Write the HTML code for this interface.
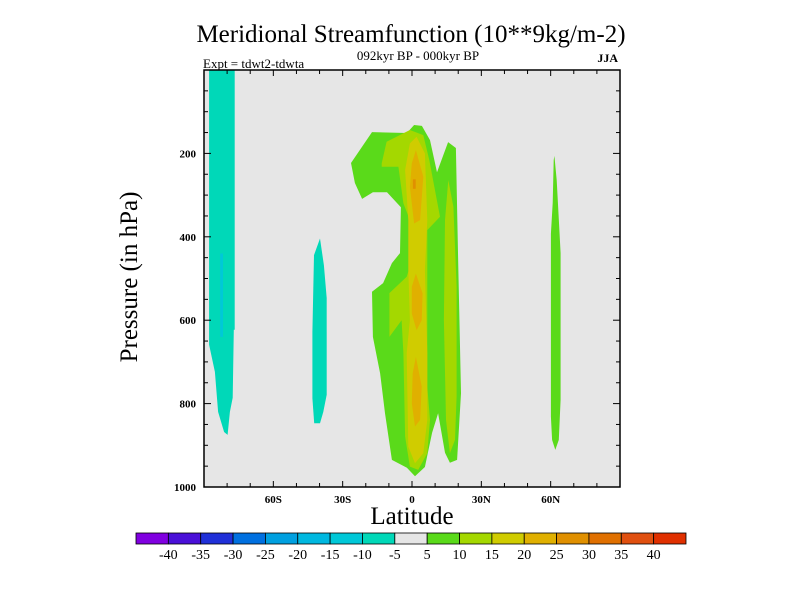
<!DOCTYPE html>
<html><head><meta charset="utf-8"><style>
body{margin:0;background:#fff;width:800px;height:600px;overflow:hidden}
text{font-family:"Liberation Serif",serif;fill:#000}
</style></head><body>
<svg id="chart" width="800" height="600" xmlns="http://www.w3.org/2000/svg">
<defs><clipPath id="clip"><rect x="204" y="70" width="416" height="417"/></clipPath></defs>
<text x="411" y="42" font-size="25" text-anchor="middle">Meridional Streamfunction (10**9kg/m-2)</text>
<text x="418" y="60" font-size="13" text-anchor="middle">092kyr BP - 000kyr BP</text>
<text x="203" y="68" font-size="13">Expt = tdwt2-tdwta</text>
<text x="618" y="62" font-size="12" font-weight="bold" text-anchor="end">JJA</text>
<rect x="204" y="70" width="416" height="417" fill="#e6e6e6"/>
<g id="fills" clip-path="url(#clip)"></g>
<rect x="204" y="70" width="416" height="417" fill="none" stroke="#000" stroke-width="1.5"/>
<g id="axes"></g>
<text transform="translate(137,277) rotate(-90)" font-size="25" text-anchor="middle">Pressure (in hPa)</text>
<text x="412" y="524" font-size="25" text-anchor="middle">Latitude</text>
<g id="colorbar"></g>
</svg>
<script>
// contour regions in data coordinates [lat, pressure hPa]
const levelColors = ["#8000e0","#4a10d8","#2030d8","#0070e0","#00a0e0","#00b8e0","#00c8d8","#00d8b8","#e6e6e6","#5ada1a","#a4d800","#d0cc00","#e0b000","#e09000","#e07000","#e05010","#e03000"];
const colorbarLabels = ["-40","-35","-30","-25","-20","-15","-10","-5","5","10","15","20","25","30","35","40"];
const xTicks = [-60,-30,0,30,60];
const xTickLabels = ["60S","30S","0","30N","60N"];
const yTicks = [200,400,600,800,1000];
const regionLevels = [7,6,7,9,9,10,10,11,12,12,12,13];
const regionSouthTeal = [[-87.8,0],[-76.7,0],[-76.7,623],[-77.1,623],[-77.6,786],[-78.8,820],[-79.8,875],[-81.3,868],[-83.9,820],[-85.3,724],[-87.8,659]];
const regionSouthCyan = [[-83.0,440],[-81.8,440],[-81.8,640],[-83.0,640]];
const region40S = [[-39.8,404],[-38.1,468],[-36.9,547],[-36.9,779],[-38.4,820],[-39.8,847],[-42.3,847],[-43.1,787],[-43.1,628],[-42.4,444]];
const region60N = [[61.6,206],[62.6,264],[63.7,376],[64.3,439],[64.3,791],[63.5,887],[62.0,911],[60.6,887],[60.1,831],[60.1,393],[60.9,319],[61.3,216]];
const regionMain5 = [[-26.4,223],[-17.3,149],[-2.2,151],[0.9,132],[4.3,134],[7.8,168],[10.8,245],[15.6,173],[19.0,187],[19.9,439],[21.2,775],[19.5,935],[16.4,942],[14.3,918],[11.3,823],[8.7,870],[5.6,952],[1.3,974],[-2.2,954],[-8.7,935],[-11.7,823],[-13.8,727],[-16.9,640],[-17.3,532],[-12.5,511],[-8.7,463],[-5.2,439],[-4.8,329],[-10.8,293],[-16.9,293],[-21.6,309],[-24.7,271]];
const regionMain10 = [[-13.1,224],[-11.0,172],[-0.9,144],[4.9,156],[7.5,216],[12.1,352],[6.6,384],[6.6,759],[7.8,839],[6.6,919],[2.7,959],[-0.9,951],[-3.0,879],[-3.7,679],[-4.5,600],[-9.8,640],[-9.8,535],[-2.3,496],[-0.1,456],[-0.9,360],[-3.7,320],[-5.9,232],[-13.1,232]];
const regionRight10 = [[15.7,264],[17.9,328],[19.3,520],[19.3,783],[18.6,887],[16.4,919],[14.7,839],[13.8,600],[14.3,360]];
const regionMain15 = [[2.0,160],[5.6,200],[6.6,360],[5.6,480],[6.6,679],[6.6,839],[4.9,919],[1.3,943],[-1.6,903],[-2.3,679],[-0.9,600],[-1.6,480],[-1.6,360],[-3.0,240],[-0.9,176]];
const regionUpper20 = [[1.7,192],[4.9,256],[3.5,360],[0.9,368],[-0.9,280],[-0.1,224]];
const regionMid20 = [[1.7,488],[4.6,536],[4.2,600],[2.0,624],[-0.1,584],[-0.1,520]];
const regionLow20 = [[1.7,688],[4.2,759],[3.5,839],[1.3,855],[-0.1,799],[0.3,727]];
const regionCore25 = [[0.4,262],[1.6,262],[1.6,285],[0.4,285]];
const regions = [regionSouthTeal,regionSouthCyan,region40S,region60N,regionMain5,regionMain10,regionRight10,regionMain15,regionUpper20,regionMid20,regionLow20,regionCore25];
const regionNames = ["region-south-teal","region-south-cyan","region-40s","region-60n","region-main-5","region-main-10","region-right-10","region-main-15","region-upper-20","region-mid-20","region-low-20","region-core-25"];

const NS="http://www.w3.org/2000/svg";
const X0=204,X1=620,Y0=70,Y1=487;
function xScale(lat){return X0+(lat+90)/180*(X1-X0);}
function yScale(p){return Y0+p/1000*(Y1-Y0);}
function mk(tag,attrs,parent){const e=document.createElementNS(NS,tag);for(const k in attrs)e.setAttribute(k,attrs[k]);parent.appendChild(e);return e;}

const fills=document.getElementById('fills');
regions.forEach((r,i)=>{
  const pts=r.map(d=>xScale(d[0]).toFixed(1)+","+yScale(d[1]).toFixed(1)).join(" ");
  const el=mk('polygon',{points:pts,fill:levelColors[regionLevels[i]]},fills);
  
  
});

const axes=document.getElementById('axes');
for(let lat=-80;lat<=80;lat+=10){
  const x=xScale(lat);const len=(lat%30===0)?6:4;
  const t1=mk('line',{x1:x,y1:Y1,x2:x,y2:Y1-len,stroke:'#000'},axes);
  
  
  const t2=mk('line',{x1:x,y1:Y0,x2:x,y2:Y0+len,stroke:'#000'},axes);
  
  
}
xTicks.forEach((v,i)=>{
  const t=mk('text',{x:xScale(v),y:503,'font-size':11,'font-weight':'bold','text-anchor':'middle'},axes);
  t.textContent=xTickLabels[i];
  
  
});
for(let p=50;p<1000;p+=50){
  const y=yScale(p);const len=(p%200===0)?7:4;
  const t1=mk('line',{x1:X0,y1:y,x2:X0+len,y2:y,stroke:'#000'},axes);
  
  
  const t2=mk('line',{x1:X1,y1:y,x2:X1-len,y2:y,stroke:'#000'},axes);
  
  
}
yTicks.forEach(v=>{
  const t=mk('text',{x:196,y:yScale(v)+4,'font-size':11,'font-weight':'bold','text-anchor':'end'},axes);
  t.textContent=String(v);
  
  
});

const cb=document.getElementById('colorbar');
const CB0=136,CB1=686,n=levelColors.length,w=(CB1-CB0)/n;
levelColors.forEach((c,i)=>{
  const r=mk('rect',{x:CB0+i*w,y:533,width:w,height:11,fill:c,stroke:'#000','stroke-width':0.8},cb);
  
  
});
colorbarLabels.forEach((l,i)=>{
  const t=mk('text',{x:CB0+(i+1)*w,y:559,'font-size':14,'text-anchor':'middle'},cb);
  t.textContent=l;
  
  
});
</script>
</body></html>
